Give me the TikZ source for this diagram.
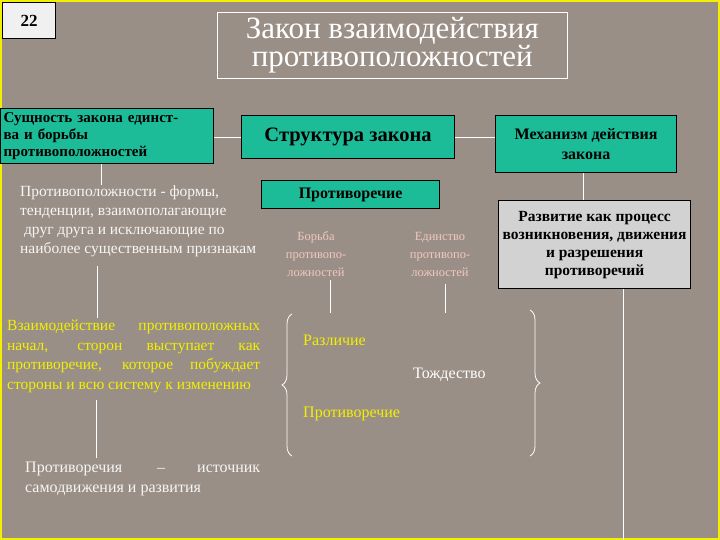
\documentclass[tikz,border=0pt]{standalone}
\usepackage{fontspec}
\setmainfont{Liberation Serif}
\usetikzlibrary{decorations.pathreplacing}
\definecolor{bg}{HTML}{9A8F86}
\definecolor{teal}{HTML}{1DBC98}
\definecolor{pinkt}{HTML}{F0C8C0}
\definecolor{yel}{HTML}{F2F000}
\tikzset{
 tbox/.style={draw=black,line width=1.2pt,fill=teal,inner sep=3pt,font=\bfseries},
 wl/.style={draw=white,line width=0.8pt},
 brc/.style={draw=white,line width=0.8pt,decorate,decoration={brace,amplitude=10pt}},
}
\begin{document}
\begin{tikzpicture}[x=1pt,y=-1pt]
\fill[bg] (0,0) rectangle (720,540);
\draw[yel,line width=2pt] (1,1) rectangle (719,539);
\useasboundingbox (0,0) rectangle (720,540);
% number
\node[draw=black,fill=white!88!gray,line width=1pt,minimum width=53pt,minimum height=36pt,anchor=north west,inner sep=0pt,font=\bfseries\fontsize{17}{17}\selectfont,text depth=0pt] (num) at (2,2) {22};
\node[draw=white,line width=0.6pt,minimum width=350pt,minimum height=66pt,anchor=north west,text=white,font=\fontsize{31}{27}\selectfont,align=center] (title) at (217,12) {Закон взаимодействия\\противоположностей};
% boxes
\node[tbox,minimum width=213pt,minimum height=55pt,anchor=north west,align=left,text width=207pt,inner sep=2pt,font=\bfseries\fontsize{15}{17}\selectfont] (ess) at (0,108) {Сущность закона единст-\\ва и борьбы\\противоположностей};
\node[tbox,minimum width=213pt,minimum height=43pt,anchor=north west,font=\bfseries\fontsize{20.5}{22}\selectfont] (str) at (241,115) {Структура закона};
\node[tbox,minimum width=181pt,minimum height=57pt,anchor=north west,align=center,font=\bfseries\fontsize{16}{20}\selectfont] (mech) at (495,115) {Механизм действия\\закона};
\node[tbox,minimum width=178pt,minimum height=28pt,anchor=north west,font=\bfseries\fontsize{16}{16}\selectfont] (contr) at (261,180) {Противоречие};
\node[draw=black,line width=1.2pt,fill=gray!35,minimum width=192pt,minimum height=88pt,inner sep=1pt,anchor=north west,align=center,font=\bfseries\fontsize{15.5}{18}\selectfont] (dev) at (498,200) {Развитие как процесс\\возникновения, движения\\и разрешения\\противоречий};
% texts
\node[anchor=north west,text=white!92!gray,align=left,font=\fontsize{15.5}{19}\selectfont,inner sep=0pt] (opp) at (20,186) {Противоположности - формы,\\тенденции, взаимополагающие\\\ друг друга и исключающие по\\наиболее существенным признакам};
\node[text=pinkt,align=center,font=\fontsize{12.5}{18}\selectfont,inner sep=0pt] (bor) at (316,254) {Борьба\\противопо-\\ложностей};
\node[text=pinkt,align=center,font=\fontsize{12.5}{18}\selectfont,inner sep=0pt] (edi) at (440,254) {Единство\\противопо-\\ложностей};
\node[anchor=north west,text=yel,align=justify,text width=253pt,font=\fontsize{15.5}{19.5}\selectfont,inner sep=0pt] (inter) at (7,320) {Взаимодействие противоположных начал, сторон выступает как противоречие, которое побуждает стороны и всю систему к изменению};
\node[anchor=west,text=yel,font=\fontsize{16}{16}\selectfont,inner sep=0pt] (razl) at (303,340) {Различие};
\node[anchor=west,text=white,font=\fontsize{16}{16}\selectfont,inner sep=0pt] (tozh) at (413,375) {Тождество};
\node[anchor=west,text=yel,font=\fontsize{16}{16}\selectfont,inner sep=0pt] (pr2) at (303,414) {Противоречие};
\node[anchor=north west,text=white!92!gray,align=justify,text width=235pt,font=\fontsize{16}{20}\selectfont,inner sep=0pt] (src) at (25,462) {Противоречия \quad\quad--\quad\quad источник самодвижения и развития};
% connectors
\draw[wl] (ess.east |- str.center) -- (str.west);
\draw[wl] (str.east) -- (mech.west |- str.center);
\draw[wl] (ess.south -| 101,0) -- (101,185);
\draw[wl] (97,266) -- (97,318);
\draw[wl] (96,400) -- (96,458);
\draw[wl] (mech.south -| 583,0) -- (583,200);
\draw[wl] (dev.south -| 623,0) -- (623,540);
\draw[wl] (330,280) -- (330,313);
\draw[wl] (445,284) -- (445,313);
\coordinate (lb1) at (292,456); \coordinate (lb2) at (292,314);
\draw[brc] (lb1) -- (lb2);
\coordinate (rb1) at (530,310); \coordinate (rb2) at (530,456);
\draw[brc] (rb1) -- (rb2);
\end{tikzpicture}
\end{document}
